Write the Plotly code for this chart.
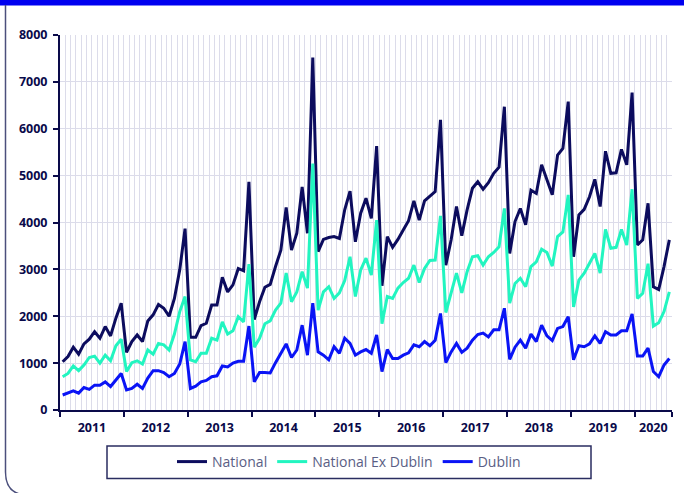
import plotly.graph_objects as go

# ---- data (monthly, Jan 2011 - Jul 2020) ----
years = ["2011", "2012", "2013", "2014", "2015", "2016", "2017", "2018", "2019", "2020"]
months_in_year = [12, 12, 12, 12, 12, 12, 12, 12, 12, 7]

national = [
    1030, 1140, 1340, 1190, 1410, 1510, 1670, 1530, 1780, 1580, 1960, 2280,
    1230, 1460, 1600, 1460, 1900, 2030, 2250, 2170, 2000, 2380, 2990, 3870,
    1550, 1550, 1800, 1850, 2240, 2240, 2830, 2520, 2670, 3020, 2970, 4870,
    1930, 2310, 2620, 2680, 3060, 3410, 4320, 3410, 3770, 4760, 3770, 7520,
    3380, 3640, 3680, 3700, 3660, 4270, 4670, 3590, 4200, 4520, 4090, 5630,
    2650, 3700, 3470, 3640, 3840, 4040, 4460, 4050, 4460, 4550, 4660, 6190,
    3090, 3630, 4340, 3720, 4270, 4730, 4870, 4710, 4850, 5050, 5180, 6470,
    3340, 4020, 4300, 3950, 4690, 4620, 5230, 4910, 4590, 5440, 5580, 6580,
    3270, 4160, 4280, 4550, 4920, 4340, 5520, 5050, 5060, 5560, 5230, 6770,
    3520, 3630, 4410, 2630, 2570, 3060, 3630,
]
ex_dublin = [
    710, 780, 940, 840, 960, 1120, 1150, 1000, 1170, 1050, 1370, 1510,
    820, 1010, 1050, 980, 1280, 1190, 1420, 1390, 1280, 1620, 2100, 2420,
    1070, 1030, 1210, 1210, 1530, 1490, 1880, 1620, 1690, 1990, 1880, 3110,
    1340, 1530, 1840, 1900, 2130, 2280, 2920, 2310, 2520, 2950, 2600, 5260,
    2130, 2520, 2630, 2380, 2500, 2760, 3270, 2420, 2990, 3240, 2880, 4050,
    1840, 2420, 2380, 2600, 2720, 2810, 3090, 2720, 3020, 3190, 3200, 4140,
    2080, 2490, 2920, 2500, 2950, 3270, 3290, 3090, 3270, 3360, 3480, 4300,
    2280, 2700, 2810, 2630, 3060, 3160, 3430, 3360, 3070, 3700, 3800, 4590,
    2200, 2770, 2920, 3130, 3340, 2920, 3850, 3450, 3470, 3850, 3520, 4710,
    2380, 2490, 3120, 1790, 1860, 2100, 2520,
]
dublin = [
    320, 360, 410, 360, 480, 440, 530, 530, 600, 500, 630, 780,
    430, 460, 550, 460, 680, 840, 840, 800, 710, 780, 980, 1460,
    460, 510, 600, 630, 710, 730, 940, 920, 1000, 1040, 1040, 1790,
    600, 800, 800, 790, 1010, 1210, 1410, 1120, 1280, 1810, 1170, 2280,
    1240, 1170, 1070, 1350, 1210, 1530, 1420, 1170, 1240, 1290, 1210, 1600,
    820, 1290, 1100, 1100, 1170, 1220, 1390, 1350, 1460, 1370, 1490, 2060,
    1010, 1240, 1420, 1230, 1320, 1490, 1610, 1640, 1560, 1710, 1710, 2170,
    1080, 1340, 1490, 1320, 1620, 1460, 1810, 1580, 1480, 1740, 1780, 1990,
    1070, 1370, 1350, 1410, 1580, 1420, 1670, 1600, 1600, 1690, 1690, 2050,
    1150, 1150, 1320, 820, 710, 960, 1100,
]
series_names = ["National", "National Ex Dublin", "Dublin"]
series_colors = ["#0c0c5e", "#22f5c0", "#0a14f5"]

# ---- derived positions ----
n = len(national)
x = list(range(n))
bounds = [-0.5]
for m in months_in_year:
    bounds.append(bounds[-1] + m)
centers = [(bounds[i] + bounds[i + 1]) / 2 for i in range(len(years))]

W, H = 684, 493
L, R, T, B = 60, 12, 35, 83
PW, PH = W - L - R, H - T - B
def px(v):
    return (v - L) / PW
def py(v):
    return (H - B - v) / PH

AXIS = "#0a0a4a"
GRID = "#dcdcea"

fig = go.Figure()
for name, vals, col in zip(series_names, [national, ex_dublin, dublin], series_colors):
    fig.add_trace(go.Scatter(x=x, y=vals, mode="lines", name=name,
                             line=dict(color=col, width=3)))
# helper trace so the tick-mark axis is drawn
fig.add_trace(go.Scatter(x=[bounds[0]], y=[0], xaxis="x2", mode="markers",
                         marker=dict(opacity=0), showlegend=False, hoverinfo="skip"))

fig.update_layout(
    width=W, height=H,
    margin=dict(l=L, r=R, t=T, b=B),
    paper_bgcolor="white", plot_bgcolor="white",
    showlegend=True,
    legend=dict(orientation="h", x=px(349), y=py(462), xanchor="center", yanchor="middle",
                font=dict(family="Open Sans", size=14, color="#5a5e84"),
                bgcolor="rgba(0,0,0,0)", borderwidth=0, itemwidth=30),
    xaxis=dict(range=[bounds[0], bounds[-1]], tickmode="array", tickvals=centers, ticktext=years,
               ticks="", showgrid=False, showline=False, zeroline=False,
               tickfont=dict(family="Open Sans", size=12.5, color=AXIS, weight="bold"),
               ticklabelstandoff=8,
               minor=dict(tickmode="linear", tick0=-0.5, dtick=1, showgrid=True,
                          gridcolor=GRID, gridwidth=1, ticks="")),
    xaxis2=dict(range=[bounds[0], bounds[-1]], overlaying="x", anchor="y", side="bottom",
                tickmode="array", tickvals=bounds, showticklabels=False,
                ticks="outside", ticklen=5, tickwidth=2, tickcolor=AXIS,
                showgrid=False, showline=True, linecolor=AXIS, linewidth=2, zeroline=False),
    yaxis=dict(range=[0, 8000], tickmode="linear", tick0=0, dtick=1000,
               ticks="outside", ticklen=5, tickwidth=2, tickcolor=AXIS,
               showline=True, linecolor=AXIS, linewidth=2, zeroline=False,
               showgrid=True, gridcolor=GRID, gridwidth=1,
               tickfont=dict(family="Open Sans", size=12.5, color=AXIS, weight="bold"),
               ticklabelstandoff=3),
    shapes=[
        # top blue band of the card
        dict(type="rect", xref="paper", yref="paper", x0=px(0), x1=px(W), y0=py(5.5), y1=py(0),
             fillcolor="#0000f0", line=dict(width=0), layer="above"),
        # card border with rounded bottom-left corner
        dict(type="path", xref="paper", yref="paper",
             path=f"M {px(5.5)},{py(5)} L {px(5.5)},{py(472)} Q {px(5.5)},{py(495)} {px(28)},{py(495)}",
             line=dict(color="#4b4f7c", width=1.5), layer="above"),
        # legend frame
        dict(type="rect", xref="paper", yref="paper", x0=px(107), x1=px(591), y0=py(478.5), y1=py(446),
             line=dict(color="#2a2d60", width=1.5), fillcolor="rgba(0,0,0,0)", layer="above"),
    ],
)

fig.write_html("out.html", config={"displayModeBar": False},
               post_script="document.body.style.margin='0';document.body.style.padding='0';")
